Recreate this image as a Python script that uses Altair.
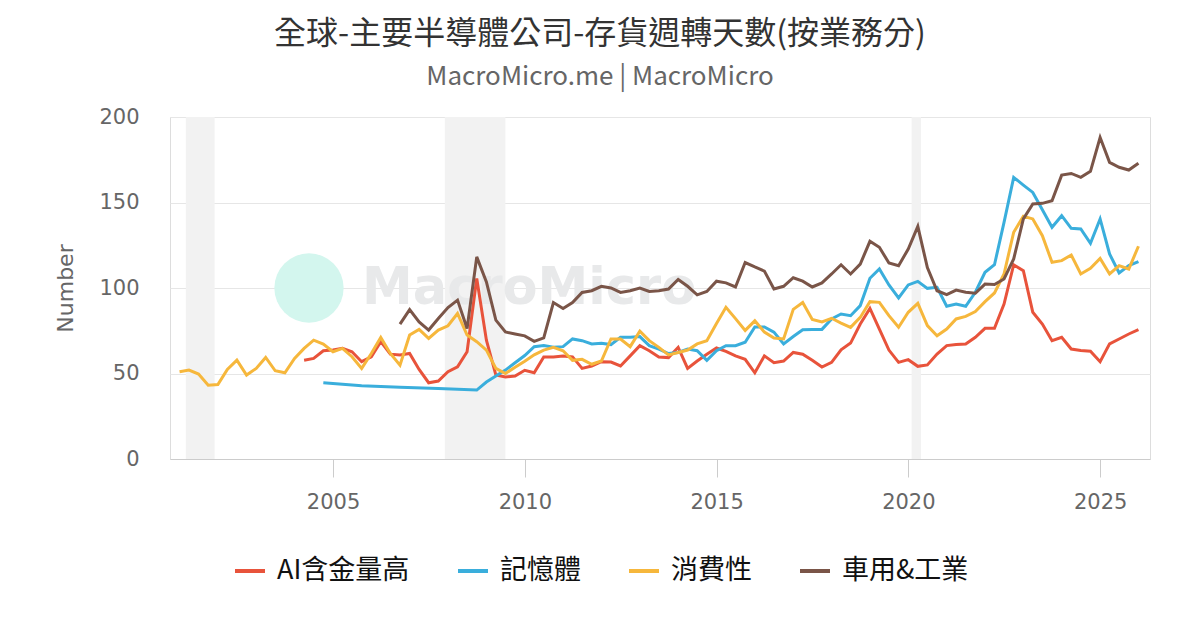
import altair as alt
import pandas as pd

# ---- data (quarterly, first point = Q4 2000, last = Q4 2025) ----
n_quarters = 101

ai_values = [None] * 13 + [
    57.8, 58.8, 63.3, 63.7, 64.7, 62.7, 56.9, 59.8, 68.6, 61.3, 60.8, 61.7,
    52.4, 44.6, 45.6, 51.0, 53.9, 62.7, 105.6, 69.5, 49.1, 48.0, 48.5, 51.9,
    50.4, 59.7, 59.7, 60.3, 59.7, 53.0, 54.4, 56.9, 56.7, 54.4, 60.3, 66.3,
    63.3, 59.7, 59.3, 65.3, 53.0, 57.3, 61.3, 64.9, 62.9, 60.3, 58.3, 50.4,
    60.3, 56.3, 57.3, 62.3, 61.3, 57.7, 53.8,
    56.5, 63.9, 67.8, 78.9, 88.1, 76.0, 63.7, 56.5, 58.1, 54.2, 55.0, 61.4,
    66.3, 66.9, 67.3, 71.2, 76.4, 76.4, 90.6, 113.6, 110.1, 85.8, 78.9, 69.2,
    71.2, 64.3, 63.4, 63.0, 56.9, 67.3, 70.2, 73.1, 75.6,
]

memory_values = [None] * 15 + [
    44.6, None, None, None, 42.8, None, None, None, 42.0, None, None, None,
    41.2, None, None, None, 40.3, 45.0, 48.5, 52.0, 56.3, 60.5,
    65.7, 66.3, 65.3, 65.7, 70.2, 69.2, 67.3, 67.7, 66.9, 71.2, 71.2, 71.6,
    66.3, 64.3, 61.7, 62.3, 64.3, 63.3, 57.7, 63.3, 66.3, 66.3, 68.3, 77.2,
    77.2, 74.2, 67.3, 71.6, 75.6, 75.8, 75.8,
    81.9, 84.8, 83.8, 89.7, 105.7, 111.1, 101.8, 94.2, 101.8, 103.9, 99.8,
    100.4, 89.3, 90.6, 89.3, 97.5, 109.2, 113.6, 138.4, 164.7, 160.2, 155.9,
    145.8, 135.5, 142.3, 134.9, 134.5, 126.1, 140.4, 119.9, 108.8, 113.1, 115.4,
]

consumer_values = [
    51.0, 52.0, 49.7, 43.2, 43.6, 52.4, 57.8, 49.1, 53.0, 59.4, 51.6, 50.4,
    58.8, 64.7, 69.5, 67.2, 62.7, 64.7, 59.8, 53.0, 61.7, 71.1, 61.7, 54.9,
    72.5, 75.8, 70.5, 75.4, 77.9, 85.1, 72.5, 68.6, 63.7, 53.0, 50.0, 53.6, 57.1,
    60.9, 63.7, 65.3, 63.3, 57.7, 58.3, 55.4, 57.3, 70.2, 70.2, 65.7, 74.8,
    69.2, 65.3, 60.9, 62.3, 63.7, 67.3, 69.2, 79.2, 88.7, 82.1, 75.2, 80.8,
    74.2, 70.8, 70.2, 87.5, 91.5, 81.6, 80.2,
    82.3, 79.5, 77.0, 82.8, 92.0, 91.6, 83.8, 77.0, 85.8, 91.0, 78.0, 72.1,
    76.0, 81.9, 83.4, 86.2, 92.0, 97.1, 108.2, 132.6, 141.9, 140.4, 130.6,
    115.0, 116.0, 119.3, 108.2, 111.5, 117.3, 108.2, 113.1, 111.1, 124.4,
]

auto_values = [None] * 23 + [
    78.9, 87.4, 80.2, 75.4, 82.2, 88.6, 92.9, 76.3, 118.2, 103.6, 81.2, 74.3,
    73.1, 72.0,
    68.8, 70.8, 91.5, 88.0, 91.5, 97.4, 98.4, 101.0, 100.0, 97.4, 98.4, 100.0,
    98.0, 98.4, 99.4, 105.0, 101.0, 96.0, 98.0, 104.0, 103.0, 100.6, 114.9,
    112.3, 109.9, 99.4, 101.0, 106.0, 104.0, 100.6, 103.0,
    108.2, 113.6, 108.2, 114.0, 127.3, 123.8, 114.6, 113.0, 122.8, 136.0,
    112.0, 98.4, 96.1, 98.8, 97.5, 96.9, 102.3, 102.0, 105.3, 117.0, 140.4,
    149.1, 149.5, 151.0, 166.0, 167.0, 164.7, 168.2, 188.0, 173.5, 170.6,
    169.0, 173.0,
]

series_names = ["AI含金量高", "記憶體", "消費性", "車用&工業"]
series_colors = ["#e8533b", "#3aaedc", "#f6b73c", "#7a5548"]

recession_start = ["2001-03-01", "2007-12-01", "2020-02-01"]
recession_end = ["2001-11-30", "2009-06-30", "2020-04-30"]

year_ticks = [2005, 2010, 2015, 2020, 2025]

# ---- build tables ----
def quarter_end(k):
    total = 2000 * 12 + 11 + 3 * k
    y, m = total // 12, total % 12 + 1
    return (pd.Timestamp(y, m, 1) + pd.offsets.MonthEnd(0)).strftime("%Y-%m-%d")

dates = [quarter_end(k) for k in range(n_quarters)]
rows = []
for name, vals in zip(series_names, [ai_values, memory_values, consumer_values, auto_values]):
    for d, v in zip(dates, vals):
        if v is not None:
            rows.append({"date": d, "series": name, "value": v})
df = pd.DataFrame(rows)
rec = pd.DataFrame({"start": recession_start, "end": recession_end})

W, H = 980, 342
x_scale = alt.Scale(domain=[alt.DateTime(year=2000, month=10, date=1),
                            alt.DateTime(year=2026, month=4, date=20)])

bands = alt.Chart(rec).mark_rect(color="#f2f2f2").encode(
    x=alt.X("start:T", scale=x_scale),
    x2="end:T",
)

logo = alt.Chart(pd.DataFrame({"a": [0]})).mark_point(
    filled=True, color="#d3f6ee", opacity=1, size=4800, shape="circle"
).encode(x=alt.value(139), y=alt.value(171))

wm = alt.Chart(pd.DataFrame({"t": ["MacroMicro"]})).mark_text(
    font="DejaVu Sans", fontWeight="bold", fontSize=51, color="#e8e9ea",
    align="left", baseline="middle"
).encode(x=alt.value(192), y=alt.value(172), text="t:N")

lines = alt.Chart(df).mark_line(strokeWidth=3, interpolate="linear").encode(
    x=alt.X("date:T", scale=x_scale, title=None,
            axis=alt.Axis(values=[alt.DateTime(year=y, month=1, date=1) for y in year_ticks],
                          format="%Y", grid=False, tickSize=18, tickColor="#cccccc",
                          domainColor="#cccccc", labelFont="DejaVu Sans", labelFontSize=21,
                          labelColor="#666666", labelPadding=14)),
    y=alt.Y("value:Q", scale=alt.Scale(domain=[0, 200], nice=False),
            axis=alt.Axis(values=[0, 50, 100, 150, 200], title="Number",
                          grid=True, gridColor="#e6e6e6", domain=False, ticks=False,
                          labelFont="DejaVu Sans", labelFontSize=21, labelColor="#666666",
                          labelPadding=31, titleFont="DejaVu Sans", titleFontSize=22,
                          titleColor="#666666", titleFontWeight="normal", titlePadding=21)),
    color=alt.Color("series:N", scale=alt.Scale(domain=series_names, range=series_colors),
                    sort=series_names,
                    legend=alt.Legend(title=None, orient="none", direction="horizontal",
                                      legendX=63, legendY=437, symbolType="stroke",
                                      symbolStrokeWidth=4, symbolSize=900,
                                      labelFont="Noto Sans CJK TC", labelFontSize=27,
                                      labelColor="#111111", labelOffset=10,
                                      columnPadding=40, labelLimit=400)),
)

chart = alt.layer(bands, logo, wm, lines).properties(
    width=W, height=H,
    title=alt.TitleParams(
        text="全球-主要半導體公司-存貨週轉天數(按業務分)",
        subtitle="MacroMicro.me | MacroMicro",
        font="Noto Sans CJK TC", fontSize=32, fontWeight="normal", color="#333333",
        subtitleFont="Noto Sans CJK TC", subtitleFontSize=26, subtitleColor="#666666",
        anchor="middle", dx=-60, offset=15, subtitlePadding=13,
    ),
    autosize=alt.AutoSizeParams(type="none"),
    padding={"left": 162, "top": 109, "right": 42, "bottom": 163},
).configure_view(stroke=None).configure(background="white")

chart.save("out.html", embed_options={"renderer": "svg", "actions": False})
